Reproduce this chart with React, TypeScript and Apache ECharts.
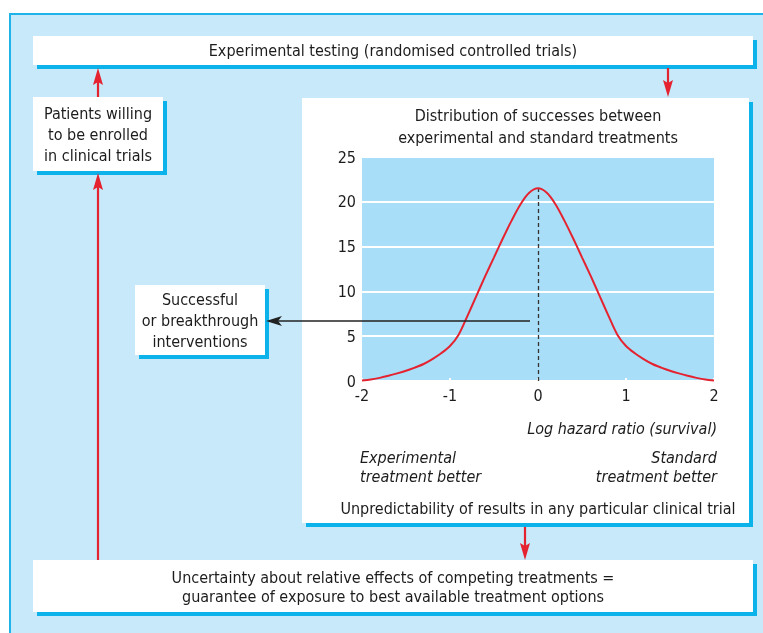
import React, { useEffect, useRef } from "react";
import * as echarts from "echarts";

const logHazardRatio = [
  -2, -1.9, -1.8, -1.7, -1.6, -1.5, -1.4, -1.3, -1.2, -1.1, -1, -0.9, -0.8, -0.7, -0.6, -0.5, -0.4, -0.3, -0.2, -0.1,
  0, 0.1, 0.2, 0.3, 0.4, 0.5, 0.6, 0.7, 0.8, 0.9, 1, 1.1, 1.2, 1.3, 1.4, 1.5, 1.6, 1.7, 1.8, 1.9, 2,
];
const successes = [
  0.05, 0.16, 0.35, 0.58, 0.85, 1.15, 1.5, 1.9, 2.45, 3.1, 3.9, 5.2, 7.3, 9.5, 11.7, 13.8, 15.9, 17.9, 19.7, 21.0,
  21.5, 21.0, 19.7, 17.9, 15.9, 13.8, 11.7, 9.5, 7.3, 5.2, 3.9, 3.1, 2.45, 1.9, 1.5, 1.15, 0.85, 0.58, 0.35, 0.16, 0.05,
];
const peak = { x: 0, y: 21.5 };
const yTicks = { min: 0, max: 25, interval: 5 };
const xTicks = { min: -2, max: 2, interval: 1 };

const topText = "Experimental testing (randomised controlled trials)";
const leftText = "Patients willing\nto be enrolled\nin clinical trials";
const successText = "Successful\nor breakthrough\ninterventions";
const chartTitle = "Distribution of successes between\nexperimental and standard treatments";
const xAxisName = "Log hazard ratio (survival)";
const expBetter = "Experimental\ntreatment better";
const stdBetter = "Standard\ntreatment better";
const unpredict = "Unpredictability of results in any particular clinical trial";
const bottomText =
  "Uncertainty about relative effects of competing treatments =\nguarantee of exposure to best available treatment options";

const FONT = "'Liberation Sans Narrow', 'DejaVu Sans Condensed', 'Roboto', sans-serif";
const RED = "#e52330";
const SHADOW = "#0cb2ea";
const PANEL = "#c7e9f9";
const TXT = "#1c1c1c";

function box(x: number, y: number, w: number, h: number, z = -8) {
  return [
    { type: "rect", z: z - 1, shape: { x: x + 4, y: y + 4, width: w, height: h }, style: { fill: SHADOW } },
    { type: "rect", z, shape: { x, y, width: w, height: h }, style: { fill: "#ffffff" } },
  ];
}

function txt(x: number, y: number, text: string, align: string, opts: any = {}) {
  return {
    type: "text",
    z: 20,
    x,
    y,
    style: {
      text,
      fill: TXT,
      font: `${opts.italic ? "italic " : ""}16px ${FONT}`,
      align,
      verticalAlign: "middle",
      lineHeight: opts.lh || 21,
    },
  };
}

function upArrow(x: number, tipY: number) {
  return {
    type: "polygon",
    z: 5,
    shape: { points: [[x, tipY], [x + 5, tipY + 17], [x, tipY + 14], [x - 5, tipY + 17]] },
    style: { fill: RED },
  };
}
function downArrow(x: number, tipY: number) {
  return {
    type: "polygon",
    z: 5,
    shape: { points: [[x, tipY], [x + 5, tipY - 17], [x, tipY - 14], [x - 5, tipY - 17]] },
    style: { fill: RED },
  };
}
function vline(x: number, y1: number, y2: number, color = RED, w = 2.2) {
  return { type: "line", z: 5, shape: { x1: x, y1, x2: x, y2 }, style: { stroke: color, lineWidth: w } };
}

export default function App() {
  const ref = useRef<HTMLDivElement>(null);
  useEffect(() => {
    if (!ref.current) return;
    const chart = echarts.init(ref.current, null, { renderer: "svg" });
    const data = logHazardRatio.map((x, i) => [x, successes[i]]);
    const graphics: any[] = [
      {
        type: "rect",
        z: -20,
        shape: { x: 10, y: 14, width: 770, height: 640 },
        style: { fill: PANEL, stroke: "#1fb3e8", lineWidth: 2 },
      },
      ...box(33, 36, 720, 29),
      ...box(33, 97, 130, 74),
      ...box(302, 98, 447, 425),
      ...box(135, 285, 130, 70),
      ...box(33, 560, 720, 52),
      txt(393, 50, topText, "center"),
      txt(98, 134, leftText, "center"),
      txt(200, 320, successText, "center"),
      txt(538, 126, chartTitle, "center", { lh: 22 }),
      txt(717, 428, xAxisName, "right", { italic: true }),
      txt(360, 467, expBetter, "left", { italic: true, lh: 19 }),
      txt(717, 467, stdBetter, "right", { italic: true, lh: 19 }),
      txt(538, 508, unpredict, "center"),
      txt(393, 587, bottomText, "center", { lh: 19 }),
      // red arrows
      vline(98, 80, 97),
      upArrow(98, 68),
      vline(98, 186, 560),
      upArrow(98, 173),
      vline(668, 68, 84),
      downArrow(668, 97),
      vline(525, 527, 547),
      downArrow(525, 560),
      // black arrow
      { type: "line", z: 30, shape: { x1: 530, y1: 321, x2: 276, y2: 321 }, style: { stroke: "#222", lineWidth: 1.6 } },
      {
        type: "polygon",
        z: 30,
        shape: { points: [[266, 321], [282, 316], [278, 321], [282, 326]] },
        style: { fill: "#222" },
      },
    ];
    chart.setOption({
      animation: false,
      grid: {
        left: 362,
        top: 157,
        width: 352,
        height: 224,
        show: true,
        backgroundColor: "#a9def8",
        borderWidth: 0,
        z: 1,
      },
      xAxis: {
        type: "value",
        min: xTicks.min,
        max: xTicks.max,
        interval: xTicks.interval,
        axisLine: { show: false },
        axisTick: { show: true, inside: true, length: 3, lineStyle: { color: "#ffffff", width: 2 } },
        splitLine: { show: false },
        axisLabel: { color: TXT, fontFamily: FONT, fontSize: 16, margin: 6 },
        z: 3,
      },
      yAxis: {
        type: "value",
        min: yTicks.min,
        max: yTicks.max,
        interval: yTicks.interval,
        axisLine: { show: false },
        axisTick: { show: false },
        splitLine: { show: true, lineStyle: { color: "#ffffff", width: 2 } },
        axisLabel: { color: TXT, fontFamily: FONT, fontSize: 16, margin: 6 },
        z: 3,
      },
      series: [
        {
          type: "line",
          data,
          smooth: 0.3,
          symbol: "none",
          lineStyle: { color: RED, width: 2 },
          z: 5,
          markLine: {
            silent: true,
            symbol: "none",
            label: { show: false },
            lineStyle: { color: "#333", type: [4, 3], width: 1.3 },
            data: [[{ coord: [peak.x, 0] }, { coord: [peak.x, peak.y] }]],
          },
        },
      ],
      graphic: { elements: graphics },
    });
    return () => chart.dispose();
  }, []);
  return <div ref={ref} style={{ position: "fixed", left: 0, top: 0, width: 763, height: 633 }} />;
}
